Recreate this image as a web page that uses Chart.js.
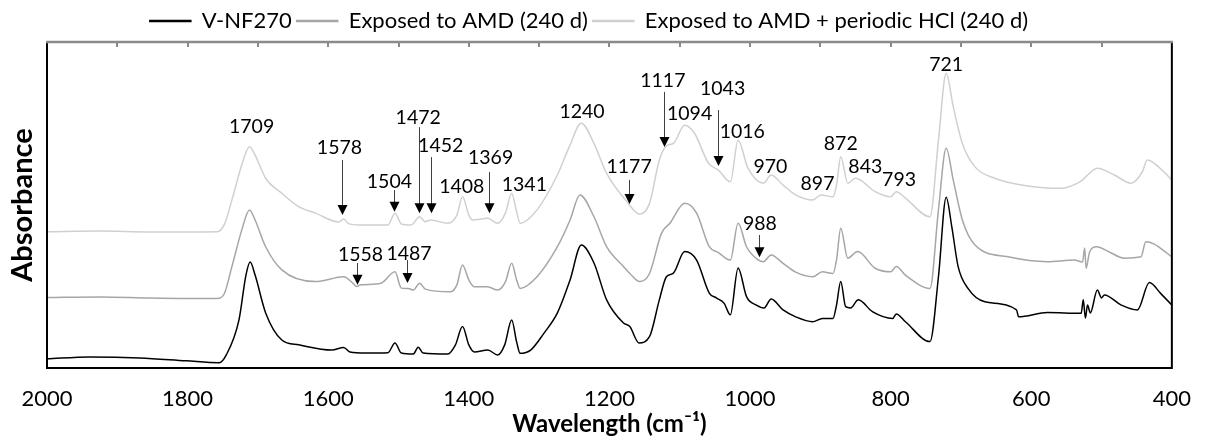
<!DOCTYPE html>
<html>
<head>
<meta charset="utf-8">
<script src="https://cdn.jsdelivr.net/npm/chart.js@4.4.1/dist/chart.umd.min.js"></script>
<style>
  html, body { margin: 0; padding: 0; background: #fff; }
</style>
</head>
<body>
<canvas id="ftir" width="1209" height="444"></canvas>
<script>
// spectra: wavenumber (cm-1) and offset absorbance (a.u.)
const wnNF270 = [2000,1939,1868,1802,1755,1745,1727,1717,1711,1704,1689,1666,1642,1595,1578,1569,1547,1515,1505,1496,1479,1472,1465,1430,1419,1409,1400,1392,1373,1359,1349,1339,1332,1327,1312,1293,1274,1256,1240,1222,1204,1180,1171,1158,1143,1129,1119,1109,1093,1076,1058,1048,1037,1028,1017,1005,991,980,970,953,935,911,897,882,877,871,864,857,846,826,797,792,779,744,732,721,713,704,690,666,621,618,577,529,526,523,520,516,506,500,496,472,449,432,416,400];
const absNF270 = [0.028,0.034,0.031,0.022,0.016,0.040,0.147,0.285,0.325,0.285,0.169,0.086,0.071,0.055,0.063,0.049,0.046,0.047,0.077,0.046,0.043,0.064,0.046,0.043,0.071,0.127,0.071,0.049,0.055,0.040,0.071,0.147,0.080,0.045,0.055,0.107,0.169,0.270,0.377,0.322,0.209,0.138,0.127,0.077,0.096,0.209,0.280,0.291,0.357,0.331,0.230,0.215,0.199,0.163,0.307,0.219,0.193,0.184,0.212,0.178,0.157,0.142,0.152,0.152,0.193,0.265,0.188,0.184,0.209,0.173,0.152,0.166,0.142,0.081,0.280,0.524,0.433,0.311,0.244,0.203,0.178,0.157,0.170,0.168,0.209,0.153,0.193,0.169,0.239,0.215,0.224,0.193,0.178,0.262,0.229,0.193];

const wnAMD = [2000,1925,1854,1758,1748,1737,1723,1712,1704,1689,1666,1618,1578,1564,1560,1554,1525,1505,1496,1486,1479,1470,1462,1426,1417,1409,1400,1392,1373,1359,1348,1339,1332,1327,1303,1274,1256,1242,1222,1204,1180,1171,1157,1143,1126,1114,1093,1076,1058,1045,1028,1017,1005,988,981,970,953,935,911,897,882,877,871,861,847,822,800,792,779,744,732,721,711,698,680,633,577,539,527,524,522,517,507,489,468,444,437,425,416,400];
const absAMD = [0.216,0.218,0.215,0.213,0.227,0.311,0.423,0.485,0.454,0.372,0.301,0.265,0.280,0.258,0.250,0.255,0.260,0.295,0.245,0.244,0.239,0.260,0.242,0.234,0.255,0.316,0.270,0.249,0.249,0.239,0.264,0.321,0.270,0.244,0.280,0.372,0.454,0.531,0.464,0.372,0.311,0.290,0.265,0.290,0.413,0.444,0.505,0.475,0.372,0.354,0.331,0.444,0.372,0.331,0.326,0.347,0.321,0.294,0.280,0.295,0.290,0.331,0.429,0.337,0.357,0.306,0.295,0.311,0.285,0.244,0.485,0.674,0.577,0.454,0.377,0.341,0.326,0.331,0.325,0.368,0.306,0.356,0.372,0.356,0.337,0.341,0.387,0.380,0.367,0.341];

const wnHCl = [2000,1925,1854,1758,1748,1737,1723,1712,1704,1689,1666,1642,1618,1585,1578,1571,1557,1515,1505,1496,1482,1470,1462,1454,1430,1417,1409,1400,1395,1373,1359,1348,1339,1332,1327,1303,1274,1257,1240,1222,1204,1175,1157,1143,1129,1119,1109,1093,1079,1059,1045,1028,1017,1003,981,970,953,935,911,899,882,877,871,861,850,822,800,792,779,744,732,721,711,698,680,652,605,557,534,527,506,482,458,442,435,425,400];
const absHCl = [0.418,0.420,0.417,0.418,0.439,0.515,0.623,0.679,0.653,0.582,0.536,0.495,0.475,0.448,0.457,0.443,0.439,0.439,0.475,0.442,0.439,0.464,0.449,0.454,0.444,0.469,0.525,0.469,0.454,0.459,0.444,0.475,0.536,0.479,0.444,0.485,0.592,0.679,0.751,0.689,0.597,0.510,0.472,0.505,0.638,0.681,0.689,0.745,0.720,0.628,0.607,0.571,0.699,0.613,0.567,0.592,0.561,0.531,0.515,0.531,0.525,0.561,0.648,0.567,0.582,0.541,0.525,0.541,0.521,0.464,0.699,0.904,0.802,0.689,0.617,0.582,0.558,0.551,0.567,0.577,0.613,0.592,0.567,0.602,0.638,0.628,0.577];

const seriesNames = ['V-NF270', 'Exposed to AMD (240 d)', 'Exposed to AMD + periodic HCl (240 d)'];
const xTickValues = [2000, 1800, 1600, 1400, 1200, 1000, 800, 600, 400];
const topTickValues = [1900, 1800, 1700, 1600, 1500, 1400, 1300, 1200, 1100, 1000, 900, 800, 700, 600, 500];

// band labels: text, wavenumber, absorbance level of the label centre
const peakLabels = [
  ['1709', 1709, 0.739], ['1578', 1584, 0.675], ['1504', 1513, 0.571], ['1472', 1472, 0.767],
  ['1452', 1440, 0.681], ['1408', 1410, 0.555], ['1369', 1369, 0.644], ['1341', 1321, 0.561],
  ['1240', 1239, 0.785], ['1177', 1172, 0.617], ['1117', 1124, 0.880], ['1094', 1086, 0.779],
  ['1043', 1039, 0.856], ['1016', 1011, 0.724], ['970', 971, 0.617], ['988', 986, 0.442],
  ['1558', 1554, 0.347], ['1487', 1485, 0.350], ['872', 871, 0.687], ['897', 904, 0.564],
  ['843', 836, 0.617], ['793', 788, 0.577], ['721', 721, 0.929]
];
// arrows: wavenumber, start level, tip level
const peakArrows = [
  [1581, 0.638, 0.469], [1506, 0.546, 0.479], [1471, 0.739, 0.475], [1454, 0.647, 0.475],
  [1372, 0.601, 0.475], [1172, 0.577, 0.503], [1123, 0.847, 0.678], [1045, 0.791, 0.620],
  [987, 0.408, 0.340], [1559, 0.322, 0.255], [1488, 0.331, 0.261]
];

const toPoints = (wn, ab) => wn.map((w, i) => ({ x: w, y: ab[i] }));

const framePlugin = {
  id: 'framePlugin',
  afterDatasetsDraw(chart) {
    const { ctx, chartArea: a, scales: { x, y } } = chart;
    ctx.save();

    // arrows
    peakArrows.forEach(([wn, from, tip]) => {
      const px = Math.round(x.getPixelForValue(wn)) + 0.5;
      const p0 = y.getPixelForValue(from);
      const p1 = y.getPixelForValue(tip);
      ctx.strokeStyle = '#404040';
      ctx.lineWidth = 1;
      ctx.beginPath();
      ctx.moveTo(px, p0);
      ctx.lineTo(px, p1 - 9);
      ctx.stroke();
      ctx.fillStyle = '#000';
      ctx.beginPath();
      ctx.moveTo(px - 5, p1 - 10);
      ctx.lineTo(px + 5, p1 - 10);
      ctx.lineTo(px, p1);
      ctx.closePath();
      ctx.fill();
    });

    // labels
    ctx.font = '19.5px Lato';
    ctx.textAlign = 'center';
    ctx.textBaseline = 'middle';
    ctx.fillStyle = '#000';
    peakLabels.forEach(([t, wn, lv]) => {
      ctx.fillText(t, x.getPixelForValue(wn), y.getPixelForValue(lv));
    });

    // frame: black sides and bottom, grey top with small inward marks
    ctx.strokeStyle = '#000';
    ctx.lineWidth = 2;
    ctx.beginPath();
    ctx.moveTo(a.left, a.top);
    ctx.lineTo(a.left, a.bottom);
    ctx.lineTo(a.right, a.bottom);
    ctx.lineTo(a.right, a.top);
    ctx.stroke();

    ctx.strokeStyle = '#8a8a8a';
    ctx.lineWidth = 2.5;
    ctx.beginPath();
    ctx.moveTo(a.left - 1, a.top);
    ctx.lineTo(a.right + 1, a.top);
    ctx.stroke();
    ctx.lineWidth = 2;
    topTickValues.forEach(v => {
      const px = Math.round(x.getPixelForValue(v));
      ctx.beginPath();
      ctx.moveTo(px, a.top);
      ctx.lineTo(px, a.top + 5);
      ctx.stroke();
    });
    ctx.restore();
  }
};

Chart.defaults.font.family = 'Lato';
Chart.defaults.color = '#000';

new Chart(document.getElementById('ftir'), {
  type: 'line',
  data: {
    datasets: [
      { label: seriesNames[0], data: toPoints(wnNF270, absNF270), borderColor: '#000000', backgroundColor: '#000000' },
      { label: seriesNames[1], data: toPoints(wnAMD, absAMD), borderColor: '#a6a6a6', backgroundColor: '#a6a6a6' },
      { label: seriesNames[2], data: toPoints(wnHCl, absHCl), borderColor: '#d0d0d0', backgroundColor: '#d0d0d0' }
    ]
  },
  options: {
    responsive: false,
    animation: false,
    devicePixelRatio: 1,
    layout: { padding: { top: 5, right: 31, left: 0, bottom: 0 } },
    elements: {
      point: { radius: 0 },
      line: { borderWidth: 1.5, cubicInterpolationMode: 'monotone' }
    },
    plugins: {
      legend: {
        position: 'top',
        labels: { font: { size: 22 }, color: '#000', boxWidth: 41, boxHeight: 1, padding: 5 }
      },
      tooltip: { enabled: false }
    },
    scales: {
      x: {
        type: 'linear',
        reverse: true,
        min: 400,
        max: 2000,
        afterBuildTicks: s => { s.ticks = xTickValues.map(v => ({ value: v })); },
        afterFit: s => { s.height = 76; },
        grid: { display: false, drawTicks: false, tickLength: 0 },
        border: { display: false },
        ticks: { font: { size: 22 }, color: '#000', padding: 18, maxRotation: 0, callback: v => String(v) },
        title: {
          display: true,
          text: 'Wavelength (cm⁻¹)',
          font: { size: 24, weight: 'bold' },
          color: '#000',
          padding: { top: 0, bottom: 5 }
        }
      },
      y: {
        min: 0,
        max: 1,
        afterFit: s => { s.width = 47; },
        grid: { display: false, drawTicks: false },
        border: { display: false },
        ticks: { display: false },
        title: {
          display: true,
          text: 'Absorbance',
          font: { size: 29, weight: 'bold' },
          color: '#000',
          padding: { top: 5, bottom: 0 }
        }
      }
    }
  },
  plugins: [framePlugin]
});
</script>
</body>
</html>
